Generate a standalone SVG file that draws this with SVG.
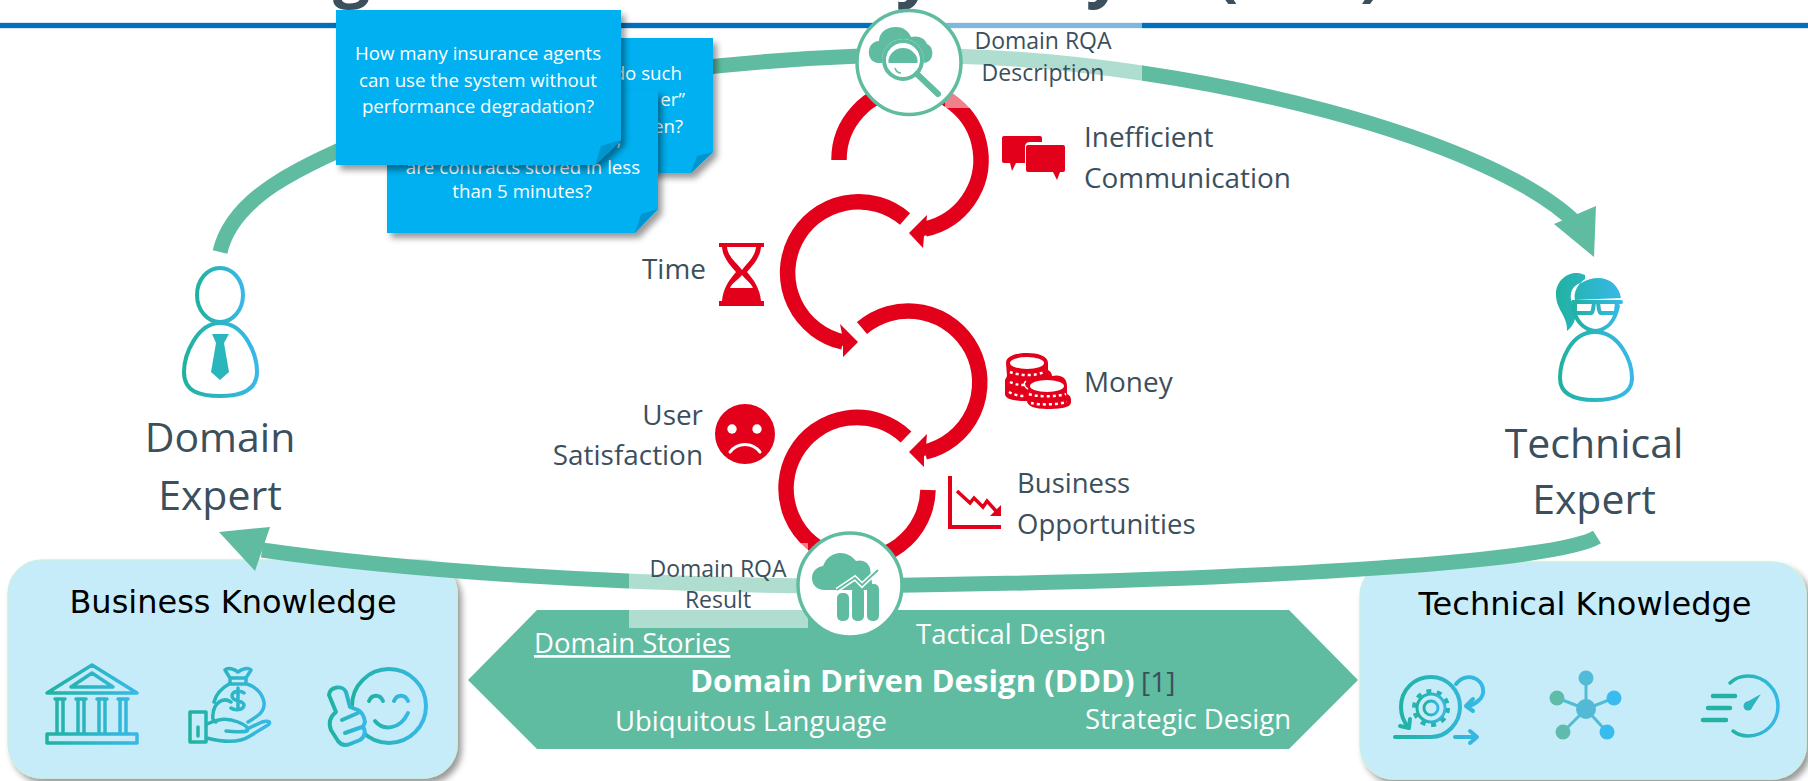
<svg xmlns="http://www.w3.org/2000/svg" width="1808" height="781" viewBox="0 0 1808 781">
<defs>
<linearGradient id="tg" x1="0" y1="0" x2="1" y2="0"><stop offset="0" stop-color="#20b2a0"/><stop offset="1" stop-color="#38b8e8"/></linearGradient>
<filter id="sh" x="-10%" y="-10%" width="125%" height="125%"><feDropShadow dx="4" dy="5" stdDeviation="3" flood-color="#000" flood-opacity="0.4"/></filter>
</defs>
<style>
.t{font-family:"Open Sans","Noto Sans",sans-serif;fill:#3c4f5c}
.n{font-family:"Open Sans","Noto Sans",sans-serif;fill:#fff;font-size:18.7px;text-anchor:middle}
.ne{text-anchor:end}
.k{font-family:"DejaVu Sans",sans-serif;fill:#000;font-size:32px;text-anchor:middle}
.w{font-family:"Open Sans","Noto Sans",sans-serif;fill:#fff;font-size:27.5px}
.l{font-size:27.9px}
.s{font-size:23px;text-anchor:middle}
.b{font-size:41px;text-anchor:middle}
.gf{fill:none;stroke:#5fbca0;stroke-width:15}
.rf{fill:none;stroke:#e2001a;stroke-width:15.5}
.r{fill:#e2001a}
.g{fill:#5fbca0}
.tl{fill:none;stroke:url(#tg);stroke-width:4;stroke-linecap:round;stroke-linejoin:round}
.tf{fill:url(#tg)}
.c{fill:#fff;stroke:#5fbca0;stroke-width:3.5}
.note{fill:#00b0f0}
.fold{fill:#0095cf}
.box{fill:#c7ecf9;stroke:#c9f0e6;stroke-width:1.5}
.veil{fill:#fff;fill-opacity:.5}
.wl{fill:none;stroke:#fff;stroke-linecap:round}
</style>
<text x="333 896 1086 1216 1360" y="-6" class="t" font-size="66" font-weight="700">gyy()</text>
<rect x="0" y="22" width="1808" height="7" fill="#d6e9f6"/>
<rect x="0" y="23" width="1808" height="5" fill="#0070ba"/>

<g id="business-knowledge">
<rect class="box" x="8" y="560" width="449" height="218" rx="34" filter="url(#sh)"/>
<text class="k" x="233" y="613">Business Knowledge</text>
<path class="tl" style="stroke-width:3.5" d="M47 693L92 665L137 693ZM71 687L92 673L113 687ZM47 734H137V743H47ZM55 699H65M76 699H86M97 699H107M118 699H128M55 734H65M76 734H86M97 734H107M118 734H128M57 699V734M63 699V734M78 699V734M84 699V734M99 699V734M105 699V734M120 699V734M126 699V734"/>
<path class="tl" style="stroke-width:3.5" d="M190 712H206V742H190ZM198 727V736M207 724C220 718 228 718 238 722C245 725 250 728 247 731C240 733 232 731 226 731M207 738C222 742 238 744 250 736L268 725C272 722 268 720 262 722L247 729M231 702C222 696 214 704 213 714C212 719 214 722 216 722M248 722C258 716 265 712 264 702C262 692 254 686 247 684M229 684C222 688 216 694 214 702M230 678H246V684H230ZM230 678L225 670C228 667 234 669 238 672C242 669 248 667 251 670L246 678M238 688V708M244 693C240 690 232 691 232 696C232 702 244 700 244 705C244 710 235 711 231 708"/>
<circle class="tl" cx="389" cy="706" r="37"/>
<path class="tl" d="M369 701C372 694 380 694 383 701M394 701C397 694 405 694 408 701M375 721C383 731 400 730 408 713"/>
<path class="tl" style="fill:#c7ecf9" d="M350 707L346 692C343 685 330 686 329 695L336 712C331 716 328 722 331 730L338 741C341 745 345 746 350 744L360 740C365 737 366 731 363 727L365 722C364 716 362 712 358 710ZM342 720L358 713M345 733L362 727"/>
</g>

<g id="technical-knowledge">
<rect class="box" x="1360" y="562" width="446" height="217" rx="34" filter="url(#sh)"/>
<text class="k" x="1585" y="615">Technical Knowledge</text>
<path class="tl" d="M1395 737H1431C1447 737 1460 723 1460 707C1460 690 1447 677 1431 677C1414 677 1401 690 1401 707C1401 715 1404 722 1408 727M1400 726L1409 728L1410 719M1456 684C1461 678 1468 676 1474 678C1484 682 1486 694 1479 700C1475 704 1470 706 1467 706M1473 699L1466 706L1473 711M1455 737H1476M1470 731L1477 737L1470 743"/>
<circle class="tl" cx="1431" cy="708" r="7" style="stroke-width:3"/>
<circle class="tl" cx="1431" cy="708" r="14" style="stroke-width:3"/>
<circle cx="1431" cy="708" r="17" fill="none" stroke="#26b4ac" stroke-width="4" stroke-dasharray="5 5.7"/>
<path d="M1586 709V678M1586 709L1557 698M1586 709L1614 698M1586 709L1563 732M1586 709L1607 732" stroke="#52bcd4" stroke-width="3" fill="none"/>
<circle cx="1586" cy="709" r="10" fill="#52bad6"/>
<circle cx="1586" cy="678" r="7.5" fill="#52bcd8"/>
<circle cx="1557" cy="698" r="7.5" fill="#5fbca8"/>
<circle cx="1614" cy="698" r="7.5" fill="#38bcf0"/>
<circle cx="1563" cy="732" r="7.5" fill="#5fbcac"/>
<circle cx="1607" cy="732" r="7.5" fill="#38bcf0"/>
<path class="tl" style="stroke-width:3.5" d="M1730 683C1736 677 1742 676 1748 676C1765 676 1778 690 1778 706C1778 723 1765 736 1748 736C1742 736 1737 734 1733 731"/>
<path d="M1713 696H1735M1708 708H1730M1703 720H1726" stroke="#24b2a4" stroke-width="4.5" stroke-linecap="round" fill="none"/>
<circle cx="1748" cy="706" r="4.5" fill="#2ab6bc"/>
<path d="M1745 703L1761 694L1751 709Z" fill="#2ab6bc"/>
</g>

<g id="connectors">
<path class="gf" d="M220 252C232 200 290 168 400 125C520 88 700 62 860 56"/>
<path class="gf" d="M950 56C1200 62 1495 140 1578 225"/>
<polygon class="g" points="1596,206 1594,257 1554,224"/>
<path class="gf" d="M1597 537C1560 560 1300 580 860 586C620 586 400 570 262 550"/>
<polygon class="g" points="219,532 270,527 255,571"/>
<path class="rf" d="M839 160A71 71 0 1 1 925 229"/>
<polygon class="r" points="927,215 909,233 923,248 924,236 936,232 936,222 926,226"/>
<path class="rf" d="M905 219A71 71 0 1 0 843 342"/>
<polygon class="r" points="840,324 858,342 843,357 843,346 832,342 834,332 842,334"/>
<path class="rf" d="M862 328A71.5 71.5 0 1 1 925 452"/>
<polygon class="r" points="927,434 909,452 924,467 924,456 936,452 934,442 926,446"/>
<path class="rf" d="M906 437A71 71 0 1 0 928 490"/>
</g>

<g id="ddd">
<polygon class="g" points="537,610 1289,610 1358,680 1289,749 537,749 468,680"/>
<text class="w" x="534" y="653" text-decoration="underline">Domain Stories</text>
<text class="w" x="916" y="644">Tactical Design</text>
<text class="w" x="690" y="692" font-weight="700" style="font-size:31.2px">Domain Driven Design (DDD)</text>
<text class="t" x="1141" y="692" font-size="28">[1]</text>
<text class="w" x="615" y="731">Ubiquitous Language</text>
<text class="w" x="1085" y="729">Strategic Design</text>
</g>

<rect class="veil" x="945" y="20" width="197" height="88"/>
<rect class="veil" x="629" y="543" width="179" height="85"/>

<g id="rqa-description">
<circle class="c" cx="909" cy="62.500" r="52"/>
<path class="g" d="M879 63C871 63 868 56 869 50C870 44 875 41 879 41C879 33 886 27 896 27C904 27 909 32 911 37C918 35 925 38 927 44C932 46 933 52 932 56C931 60 928 63 923 63Z"/>
<circle cx="903" cy="60" r="21" fill="#fff"/>
<circle cx="903" cy="60" r="19" fill="none" stroke="#5fbca0" stroke-width="4"/>
<path class="g" d="M888 63A15 15 0 0 1 918 63Z"/>
<circle cx="903" cy="60" r="15.500" fill="none" stroke="#fff" stroke-width="1.500"/>
<path d="M895 68C896 71 898 73 901 73" fill="none" stroke="#5fbca0" stroke-width="1.500"/>
<path d="M917 74L938 94" stroke="#5fbca0" stroke-width="6" stroke-linecap="round"/>
<text class="t s" x="1043" y="49">Domain RQA</text>
<text class="t s" x="1043" y="81">Description</text>
</g>

<g id="rqa-result">
<circle class="c" cx="850" cy="585" r="52"/>
<path class="g" d="M825 590C816 590 812 584 812 578C812 571 817 567 823 566C826 558 833 553 840 553C847 553 852 556 856 561C862 559 868 562 870 568L873 590Z"/>
<rect class="g" x="837" y="593" width="12" height="28" rx="5"/>
<rect class="g" x="852" y="587" width="12" height="34" rx="5"/>
<rect class="g" x="867" y="584" width="12" height="37" rx="5"/>
<path d="M837 590L855 578L862 585L878 570" fill="none" stroke="#fff" stroke-width="5"/>
<path d="M837 590L855 578L862 585L878 570" fill="none" stroke="#5fbca0" stroke-width="1.800"/>
<text class="t s" x="718" y="577">Domain RQA</text>
<text class="t s" x="718" y="608">Result</text>
</g>

<g id="inefficient-communication">
<path class="r" d="M1004 136H1040Q1042 136 1042 138V142H1030Q1025 142 1025 147V163H1016L1012 171L1010 163H1004Q1002 163 1002 161V138Q1002 136 1004 136Z"/>
<path class="r" d="M1028 145H1063Q1065 145 1065 147V170Q1065 172 1063 172H1060L1057 180L1053 172H1028Q1026 172 1026 170V147Q1026 145 1028 145Z"/>
<text class="t l" x="1084" y="147">Inefficient</text>
<text class="t l" x="1084" y="188">Communication</text>
</g>

<g id="time">
<path class="r" d="M719 243H764V247H761C760 258 753 265 747 272C753 279 760 288 761 301H764V306H719V301H722C723 288 730 279 736 272C730 265 723 258 722 247H719Z"/>
<path fill="#fff" d="M727 247H756C755 257 748 262 742 270C736 262 728 257 727 247ZM742 275C746 280 751 283 753 288H730C732 283 738 280 742 275Z"/>
<text class="t l" x="642" y="279">Time</text>
</g>

<g id="money">
<path class="r" d="M1006 363C1006 356 1016 353 1027 353C1038 353 1048 356 1048 363V370C1050 371 1052 373 1052 376C1060 374 1067 377 1067 386V394C1071 396 1071 398 1071 402C1071 408 1060 409 1047 409C1035 409 1027 406 1027 401C1017 401 1005 400 1005 394V380L1007 376Z"/>
<ellipse cx="1027" cy="363" rx="17" ry="6" fill="#fff"/>
<ellipse cx="1047" cy="386" rx="17" ry="6" fill="#fff"/>
<path d="M1010 372C1020 376 1036 376 1044 372" fill="none" stroke="#fff" stroke-width="2.500" stroke-dasharray="3 3"/>
<path d="M1010 382C1014 384 1018 385 1024 385M1009 392C1014 395 1020 396 1026 396M1029 394C1036 397 1056 397 1066 394M1031 403C1040 405 1056 405 1067 402" fill="none" stroke="#fff" stroke-width="2.500" stroke-dasharray="3 3"/>
<path d="M1026 381C1022 384 1026 388 1028 389" fill="none" stroke="#fff" stroke-width="1.500"/>
<text class="t l" x="1084" y="392">Money</text>
</g>

<g id="user-satisfaction">
<circle class="r" cx="745" cy="434" r="30"/>
<circle cx="732" cy="429" r="4.700" fill="#fff"/>
<circle cx="757" cy="429" r="4.700" fill="#fff"/>
<path class="wl" stroke-width="3" d="M730 452C738 442 752 442 760 452"/>
<text class="t l" x="703" y="425" text-anchor="end">User</text>
<text class="t l" x="703" y="465" text-anchor="end">Satisfaction</text>
</g>

<g id="business-opportunities">
<path class="r" d="M948 476H952V525H1001V529H948Z"/>
<path d="M957 491L970 503L974 498L983 507L987 501L996 511" fill="none" stroke="#e2001a" stroke-width="3.500"/>
<polygon class="r" points="1001,505 1001,516 990,516"/>
<text class="t" x="1017" y="493" font-size="27.500">Business</text>
<text class="t" x="1017" y="534" font-size="27.500">Opportunities</text>
</g>

<g id="domain-expert">
<ellipse class="tl" cx="220" cy="295" rx="23" ry="27"/>
<path class="tl" d="M220 323C245 323 257 355 257 372C257 392 238 396 220 396C200 396 184 392 184 372C184 355 197 323 220 323Z"/>
<polygon points="212,334 229,334 224,343 229,372 220,380 211,372 216,343" fill="#2ab6bc"/>
<text class="t b" x="220" y="452">Domain</text>
<text class="t b" x="220" y="510">Expert</text>
</g>

<g id="technical-expert">
<path class="tf" d="M1585 275C1570 268 1557 280 1556 292C1555 310 1568 315 1567 331C1575 325 1578 315 1573 305C1568 295 1572 285 1581 283C1600 272 1618 280 1621 298L1575 300C1573 292 1578 284 1585 279Z"/>
<path class="tl" d="M1573 302H1621M1575 302V311C1575 312 1576 313 1578 313H1591C1592 313 1593 312 1594 302M1598 302C1599 312 1600 313 1601 313H1614C1616 313 1616 312 1617 302M1573 306C1575 322 1585 330 1595 331C1606 330 1615 322 1618 306"/>
<path class="tl" d="M1595 332C1620 332 1632 362 1632 378C1632 396 1612 400 1595 400C1578 400 1560 396 1560 378C1560 362 1570 332 1595 332Z"/>
<text class="t b" x="1594" y="458">Technical</text>
<text class="t b" x="1594" y="514">Expert</text>
</g>

<g id="notes">
<g filter="url(#sh)"><polygon class="note" points="500,38 713,38 713,152 691,173 500,173"/><polygon class="fold" points="713,152 691,173 697,156"/></g>
<text class="n ne" x="682" y="80">do such</text>
<text class="n ne" x="685" y="106">er”</text>
<text class="n ne" x="683" y="133">en?</text>
<g filter="url(#sh)"><polygon class="note" points="387,90 658,90 658,209 635,233 387,233"/><polygon class="fold" points="658,209 635,233 641,214"/></g>
<text class="n" x="619" y="146">,</text>
<text class="n" x="523" y="174">are contracts stored in less</text>
<text class="n" x="522" y="198">than 5 minutes?</text>
<g filter="url(#sh)"><polygon class="note" points="336,10 621,10 621,140 595,165 336,165"/><polygon class="fold" points="621,140 595,165 601,146"/></g>
<text class="n" x="478" y="60">How many insurance agents</text>
<text class="n" x="478" y="87">can use the system without</text>
<text class="n" x="478" y="113">performance degradation?</text>
</g>
</svg>
